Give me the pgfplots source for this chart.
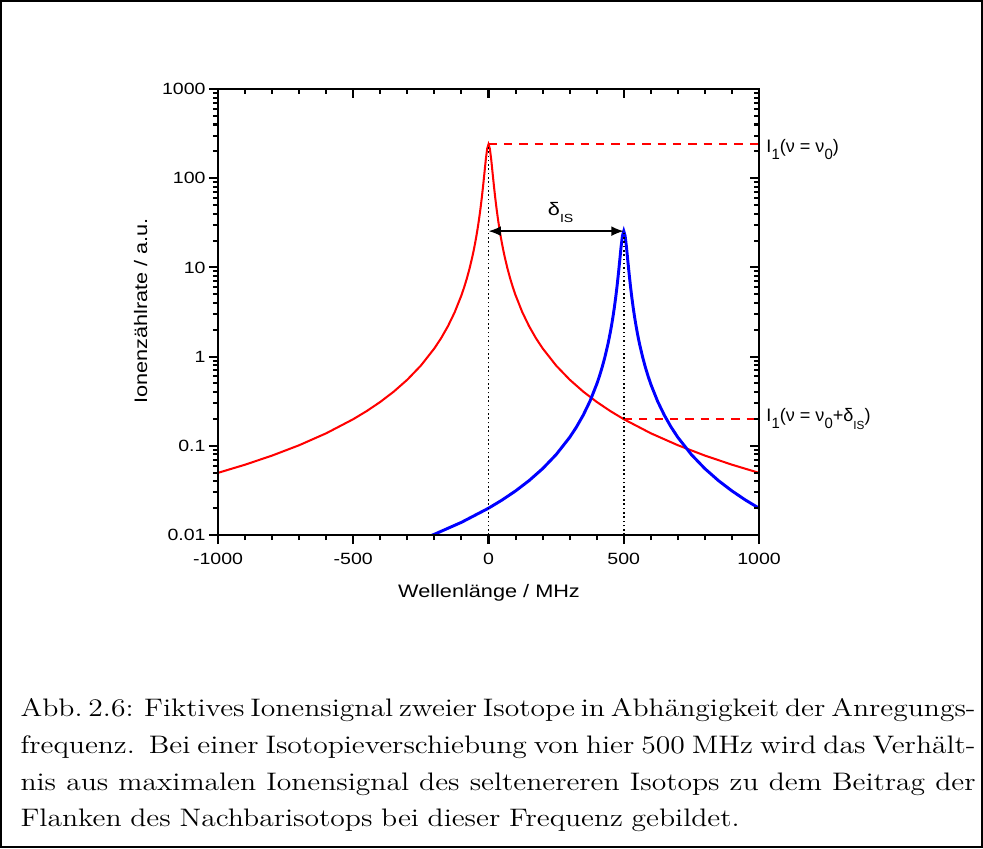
\documentclass[border=0pt]{standalone}
\usepackage{pgfplots}
\pgfplotsset{compat=1.18}
\usepackage{graphicx}
\usepackage{fontspec}
\usetikzlibrary{arrows.meta}
\newfontfamily\af[FakeStretch=1.2]{Liberation Sans}
\newfontfamily\plainsans{Liberation Sans}
\newcommand\tickfont{\af\fontsize{7.2}{8}\selectfont}
\newcommand\labfont{\af\fontsize{8}{9}\selectfont}
\newcommand\annfont{\plainsans\fontsize{8}{9}\selectfont}
\newcommand\sub[1]{\raisebox{-3pt}{\plainsans\fontsize{6.6}{7}\selectfont #1}}
\newcommand\subs[1]{\raisebox{-3.4pt}{\plainsans\fontsize{5.2}{6}\selectfont #1}}
\newcommand\subd[1]{\raisebox{-3.4pt}{\af\fontsize{5.2}{6}\selectfont #1}}
\pgfplotstableread{
x y
-1000 0.04976
-900 0.06142
-800 0.07773
-700 0.10152
-600 0.13816
-500 0.1989
-450 0.2455
-400 0.3106
-350 0.4056
-300 0.5517
-250 0.7936
-200 1.2378
-175 1.614
-150 2.192
-125 3.143
-100 4.876
-90 5.991
-80 7.532
-70 9.744
-60 13.07
-55 15.40
-50 18.38
-45 22.29
-40 27.54
-35 34.74
-30 44.94
-25 59.79
-20 81.94
-15 115.10
-10 161.92
-5 214.18
0 240
5 214.18
10 161.92
15 115.10
20 81.94
25 59.79
30 44.94
35 34.74
40 27.54
45 22.29
50 18.38
55 15.40
60 13.07
70 9.744
80 7.532
90 5.991
100 4.876
125 3.143
150 2.192
175 1.614
200 1.2378
250 0.7936
300 0.5517
350 0.4056
400 0.3106
450 0.2455
500 0.1989
600 0.13816
700 0.10152
800 0.07773
900 0.06142
1000 0.04976
}\redtab
\pgfplotstableread{
x y
-210 0.009911
-200 0.010196
-100 0.013876
0 0.019976
50 0.02466
100 0.03120
150 0.04073
200 0.05541
250 0.07972
300 0.12434
325 0.16216
350 0.2202
375 0.3159
400 0.4902
410 0.6024
420 0.7577
430 0.9808
440 1.3167
445 1.5517
450 1.854
455 2.250
460 2.783
465 3.517
470 4.560
475 6.088
480 8.386
485 11.872
490 16.885
495 22.62
500 25.5
505 22.62
510 16.885
515 11.872
520 8.386
525 6.088
530 4.560
535 3.517
540 2.783
545 2.250
550 1.854
555 1.5517
560 1.3167
570 0.9808
580 0.7577
590 0.6024
600 0.4902
625 0.3159
650 0.2202
675 0.16216
700 0.12434
750 0.07972
800 0.05541
850 0.04073
900 0.03120
950 0.02466
1000 0.019976
}\bluetab
\pgfplotsset{
  common/.style={
    at={(96.47pt,138.50pt)}, anchor=south west,
    scale only axis, width=239.39pt, height=197.36pt,
    xmin=-1000, xmax=1000, ymin=0.01, ymax=1000,
    xtick={-1000,-500,0,500,1000},
    minor xtick={-900,-800,-700,-600,-400,-300,-200,-100,100,200,300,400,600,700,800,900},
    ytick={0.01,0.1,1,10,100,1000},
    minor ytick={0.02,0.03,0.04,0.05,0.06,0.07,0.08,0.09,0.2,0.3,0.4,0.5,0.6,0.7,0.8,0.9,2,3,4,5,6,7,8,9,20,30,40,50,60,70,80,90,200,300,400,500,600,700,800,900},
    major tick length=4pt, minor tick length=2.3pt,
    tick style={black, line width=0.9pt},
    axis line style={line width=0.9pt},
    tick label style={font=\tickfont},
    clip mode=individual,
  }
}
\begin{document}
\begin{tikzpicture}
\useasboundingbox (0,0) rectangle (434.98pt,375.24pt);
\draw[line width=0.9pt] (0.45pt,0.45pt) rectangle (434.53pt,374.79pt);
\begin{axis}[ymode=log, common,
    xticklabels={-1000,-500,0,500,1000},
    yticklabels={0.01,0.1,1,10,100,1000},
    xtick pos=left, ytick pos=left, tick align=outside,
    yticklabel style={xshift=2pt},
    xticklabel style={yshift=-0.7pt},
]
\addplot[red, line width=0.9pt] table[x=x,y=y] {\redtab};
\addplot[blue, line width=1.3pt] table[x=x,y=y] {\bluetab};
\addplot[red, line width=0.8pt, dash pattern=on 3.7pt off 3.1pt] coordinates {(0,240) (1000,240)};
\addplot[red, line width=0.8pt, dash pattern=on 3.7pt off 3.1pt] coordinates {(500,0.2) (1000,0.2)};
\addplot[black, line width=0.7pt, dash pattern=on 0.7pt off 1.2pt] coordinates {(0,0.01) (0,240)};
\addplot[black, line width=0.7pt, dash pattern=on 0.7pt off 1.2pt] coordinates {(500,0.01) (500,25.5)};
\draw[{Latex[length=5.5pt,width=4.4pt]}-{Latex[length=5.5pt,width=4.4pt]}, line width=0.8pt] (axis cs:0,25.5) -- (axis cs:500,25.5);
\node[anchor=base west, inner sep=0] at (axis cs:218,38.6) {\labfont δ\subd{IS}};
\node[anchor=base west, inner sep=0] at (axis cs:1026,193) {\annfont I\sub{1}(ν = ν\sub{0})};
\node[anchor=base west, inner sep=0] at (axis cs:1026,0.186) {\annfont I\sub{1}(ν = ν\sub{0}+δ\subs{IS})};
\end{axis}
\begin{axis}[ymode=log, common,
    xticklabels={}, yticklabels={},
    xtick pos=right, ytick pos=right, tick align=inside,
]
\addplot[draw=none] coordinates {(0,1)};
\end{axis}
\node[anchor=base, inner sep=0] at (216.4pt,110.9pt) {\labfont Wellenlänge / MHz};
\node[anchor=base, rotate=90, inner sep=0] at (65.05pt,237.6pt) {\labfont Ionenzählrate / a.u.};
\node[anchor=base west, inner sep=0] at (8.9pt,58.1pt) {\scalebox{1.17}[1]{\fontsize{11.2}{16.24}\selectfont\spaceskip=3.3pt plus 3pt minus 1.5pt\vtop{\hsize=361.2pt
\hbox to\hsize{Abb.\ 2.6: Fiktives Ionensignal zweier Isotope in Abhängigkeit der Anregungs-}
\hbox to\hsize{frequenz.\ \ Bei einer Isotopieverschiebung von hier 500 MHz wird das Verhält-}
\hbox to\hsize{nis aus maximalen Ionensignal des seltenereren Isotops zu dem Beitrag der}
\hbox{Flanken des Nachbarisotops bei dieser Frequenz gebildet.}}}};
\end{tikzpicture}
\end{document}
